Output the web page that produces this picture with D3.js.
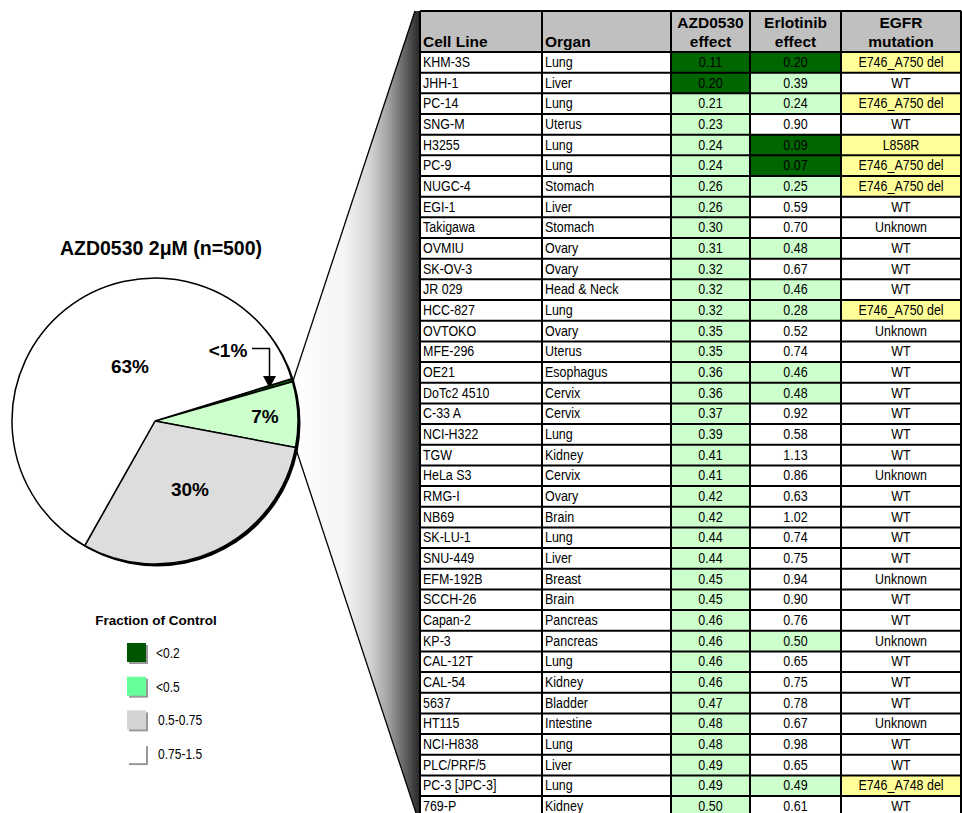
<!DOCTYPE html>
<html>
<head>
<meta charset="utf-8">
<script src="https://cdn.jsdelivr.net/npm/d3@7"></script>
<style>
body { margin: 0; background: #fff; }
svg { display: block; }
.narrow { font-family: "Liberation Sans", Arial, sans-serif; }
.bold { font-family: "Liberation Sans", Arial, sans-serif; font-weight: bold; }
</style>
</head>
<body>
<svg id="chart"></svg>
<script>
// pie summary
var pieLabels = ["<1%", "7%", "30%", "63%"];
var pieValues = [0.35, 7.4, 30.2, 62.05];
var legendLabels = ["<0.2", "<0.5", "0.5-0.75", "0.75-1.5"];

// table
var columnTitles = [["Cell Line"], ["Organ"], ["AZD0530", "effect"], ["Erlotinib", "effect"], ["EGFR", "mutation"]];
var cellLines = ["KHM-3S", "JHH-1", "PC-14", "SNG-M", "H3255", "PC-9", "NUGC-4", "EGI-1", "Takigawa", "OVMIU",
    "SK-OV-3", "JR 029", "HCC-827", "OVTOKO", "MFE-296", "OE21", "DoTc2 4510", "C-33 A", "NCI-H322", "TGW",
    "HeLa S3", "RMG-I", "NB69", "SK-LU-1", "SNU-449", "EFM-192B", "SCCH-26", "Capan-2", "KP-3", "CAL-12T",
    "CAL-54", "5637", "HT115", "NCI-H838", "PLC/PRF/5", "PC-3 [JPC-3]", "769-P"];
var organs = ["Lung", "Liver", "Lung", "Uterus", "Lung", "Lung", "Stomach", "Liver", "Stomach", "Ovary",
    "Ovary", "Head & Neck", "Lung", "Ovary", "Uterus", "Esophagus", "Cervix", "Cervix", "Lung", "Kidney",
    "Cervix", "Ovary", "Brain", "Lung", "Liver", "Breast", "Brain", "Pancreas", "Pancreas", "Lung",
    "Kidney", "Bladder", "Intestine", "Lung", "Liver", "Lung", "Kidney"];
var azdEffect = [0.11, 0.20, 0.21, 0.23, 0.24, 0.24, 0.26, 0.26, 0.30, 0.31,
    0.32, 0.32, 0.32, 0.35, 0.35, 0.36, 0.36, 0.37, 0.39, 0.41,
    0.41, 0.42, 0.42, 0.44, 0.44, 0.45, 0.45, 0.46, 0.46, 0.46,
    0.46, 0.47, 0.48, 0.48, 0.49, 0.49, 0.50];
var erlotinibEffect = [0.20, 0.39, 0.24, 0.90, 0.09, 0.07, 0.25, 0.59, 0.70, 0.48,
    0.67, 0.46, 0.28, 0.52, 0.74, 0.46, 0.48, 0.92, 0.58, 1.13,
    0.86, 0.63, 1.02, 0.74, 0.75, 0.94, 0.90, 0.76, 0.50, 0.65,
    0.75, 0.78, 0.67, 0.98, 0.65, 0.49, 0.61];
var egfrMutation = ["E746_A750 del", "WT", "E746_A750 del", "WT", "L858R", "E746_A750 del", "E746_A750 del", "WT", "Unknown", "WT",
    "WT", "WT", "E746_A750 del", "Unknown", "WT", "WT", "WT", "WT", "WT", "WT",
    "Unknown", "WT", "WT", "WT", "WT", "Unknown", "WT", "WT", "Unknown", "WT",
    "WT", "WT", "Unknown", "WT", "WT", "E746_A748 del", "WT"];

var width = 962, height = 813;
var svg = d3.select("#chart").attr("width", width).attr("height", height);

var pieColors = ["#005a00", "#ccffcc", "#dddddd", "#ffffff"];
var legendColors = ["#005500", "#66ff99", "#d4d4d4", "#ffffff"];
var effectColor = d3.scaleThreshold()
    .domain([0.2001, 0.5001])
    .range(["#006600", "#ccffcc", "#ffffff"]);
var squeeze = 0.86; // the table font is a condensed face

// table geometry
var colEdges = [420, 542, 671, 750, 841, 961];
var headTop = 11, headBottom = 52, rowH = 20.67;
var y = d3.scaleBand()
    .domain(d3.range(cellLines.length))
    .range([headBottom, headBottom + rowH * cellLines.length]);

// pie geometry
var cx = 155, cy = 421, r = 143;

// funnel from pie to table
var defs = svg.append("defs");
var grad = defs.append("linearGradient")
    .attr("id", "funnel")
    .attr("gradientUnits", "userSpaceOnUse")
    .attr("x1", 295).attr("x2", 420).attr("y1", 0).attr("y2", 0);
[[0, "#ffffff"], [0.4, "#f4f4f4"], [0.6, "#d4d4d4"], [0.75, "#a0a0a0"], [0.88, "#626262"], [1, "#262626"]]
    .forEach(function(s) { grad.append("stop").attr("offset", s[0]).attr("stop-color", s[1]); });

svg.append("path")
    .attr("d", "M293,381 L415,11 L421,11 L421,813 L416,813 L296,449 Z")
    .attr("fill", "url(#funnel)");
svg.append("line").attr("x1", 293).attr("y1", 381).attr("x2", 415).attr("y2", 11)
    .attr("stroke", "#000").attr("stroke-width", 1.3);
svg.append("line").attr("x1", 296).attr("y1", 449).attr("x2", 416).attr("y2", 813)
    .attr("stroke", "#000").attr("stroke-width", 1.3);

// pie
var pie = d3.pie().sort(null).startAngle(72.8 * Math.PI / 180).endAngle((72.8 + 360) * Math.PI / 180);
var arc = d3.arc().innerRadius(0).outerRadius(r);
var pieG = svg.append("g").attr("transform", "translate(" + cx + "," + cy + ")");

pieG.append("circle").attr("cx", 2).attr("cy", 2).attr("r", r + 0.5).attr("fill", "#000");

pieG.selectAll("path.slice")
    .data(pie(pieValues))
    .enter().append("path")
    .attr("class", "slice")
    .attr("d", arc)
    .attr("fill", function(d, i) { return pieColors[i]; })
    .attr("stroke", "#000")
    .attr("stroke-width", 1.5)
    .attr("stroke-linejoin", "round");

var labelPos = [[228, 350], [265, 416], [190, 489], [130, 366]];
svg.selectAll("text.pieLabel")
    .data(pieLabels)
    .enter().append("text")
    .attr("class", "pieLabel bold")
    .attr("x", function(d, i) { return labelPos[i][0]; })
    .attr("y", function(d, i) { return labelPos[i][1] + 7; })
    .attr("text-anchor", "middle")
    .attr("font-size", 19)
    .text(function(d) { return d; });

// bracket arrow from "<1%" to the sliver
svg.append("path")
    .attr("d", "M252,348.5 L269.5,348.5 L269.5,377")
    .attr("fill", "none").attr("stroke", "#000").attr("stroke-width", 1.5);
svg.append("path")
    .attr("d", "M263,376 L276,376 L269.5,388 Z")
    .attr("fill", "#000");

svg.append("text")
    .attr("class", "bold")
    .attr("x", 161).attr("y", 255)
    .attr("text-anchor", "middle")
    .attr("font-size", 19.5)
    .text("AZD0530 2\u03bcM (n=500)");

// legend
svg.append("text")
    .attr("class", "bold")
    .attr("x", 156).attr("y", 625)
    .attr("text-anchor", "middle")
    .attr("font-size", 13.5)
    .text("Fraction of Control");

var legend = svg.selectAll("g.legend")
    .data(legendLabels)
    .enter().append("g")
    .attr("class", "legend")
    .attr("transform", function(d, i) { return "translate(127," + (643 + i * 33.7) + ")"; });
legend.append("rect").attr("x", 2).attr("y", 2).attr("width", 19).attr("height", 19).attr("fill", "#999");
legend.append("rect").attr("width", 19).attr("height", 19)
    .attr("fill", function(d, i) { return legendColors[i]; });
legend.append("text")
    .attr("class", "narrow")
    .attr("transform", function(d, i) { return "translate(" + (i < 2 ? 29 : 31) + ",15) scale(" + squeeze + ",1)"; })
    .attr("font-size", 14)
    .text(function(d) { return d; });

// table header
var table = svg.append("g");
table.append("rect")
    .attr("x", colEdges[0]).attr("y", headTop)
    .attr("width", colEdges[5] - colEdges[0]).attr("height", headBottom - headTop)
    .attr("fill", "#c0c0c0");

columnTitles.forEach(function(lines, c) {
    var left = c < 2;
    var tx = left ? colEdges[c] + 3 : (colEdges[c] + colEdges[c + 1]) / 2;
    lines.forEach(function(line, k) {
        table.append("text")
            .attr("class", "bold")
            .attr("x", tx)
            .attr("y", headBottom - 5 - (lines.length - 1 - k) * 19)
            .attr("text-anchor", left ? "start" : "middle")
            .attr("font-size", 15.5)
            .text(line);
    });
});

// table rows
var rows = table.selectAll("g.row")
    .data(d3.range(cellLines.length))
    .enter().append("g")
    .attr("class", "row")
    .attr("transform", function(i) { return "translate(0," + y(i) + ")"; });

rows.append("rect")
    .attr("x", colEdges[2]).attr("width", colEdges[3] - colEdges[2]).attr("height", y.bandwidth())
    .attr("fill", function(i) { return effectColor(azdEffect[i]); });
rows.append("rect")
    .attr("x", colEdges[3]).attr("width", colEdges[4] - colEdges[3]).attr("height", y.bandwidth())
    .attr("fill", function(i) { return effectColor(erlotinibEffect[i]); });
rows.append("rect")
    .attr("x", colEdges[4]).attr("width", colEdges[5] - colEdges[4]).attr("height", y.bandwidth())
    .attr("fill", function(i) { return (egfrMutation[i] === "WT" || egfrMutation[i] === "Unknown") ? "#ffffff" : "#ffff99"; });

function cellText(col, getText, anchor) {
    rows.append("text")
        .attr("class", "narrow")
        .attr("transform", function() {
            var tx = anchor === "start" ? colEdges[col] + 3 : (colEdges[col] + colEdges[col + 1]) / 2;
            return "translate(" + tx + ",15) scale(" + squeeze + ",1)";
        })
        .attr("text-anchor", anchor)
        .attr("font-size", 14.5)
        .text(getText);
}
cellText(0, function(i) { return cellLines[i]; }, "start");
cellText(1, function(i) { return organs[i]; }, "start");
cellText(2, function(i) { return azdEffect[i].toFixed(2); }, "middle");
cellText(3, function(i) { return erlotinibEffect[i].toFixed(2); }, "middle");
cellText(4, function(i) { return egfrMutation[i]; }, "middle");

// grid lines
var gridBottom = headBottom + rowH * cellLines.length;
table.selectAll("line.h")
    .data([headTop, headBottom].concat(d3.range(1, cellLines.length + 1).map(function(i) { return y(i - 1) + y.bandwidth(); })))
    .enter().append("line")
    .attr("x1", colEdges[0]).attr("x2", colEdges[5])
    .attr("y1", function(d) { return d; }).attr("y2", function(d) { return d; })
    .attr("stroke", "#000").attr("stroke-width", 2);
table.selectAll("line.v")
    .data(colEdges)
    .enter().append("line")
    .attr("x1", function(d) { return d; }).attr("x2", function(d) { return d; })
    .attr("y1", headTop).attr("y2", gridBottom)
    .attr("stroke", "#000").attr("stroke-width", 2);
</script>
</body>
</html>
